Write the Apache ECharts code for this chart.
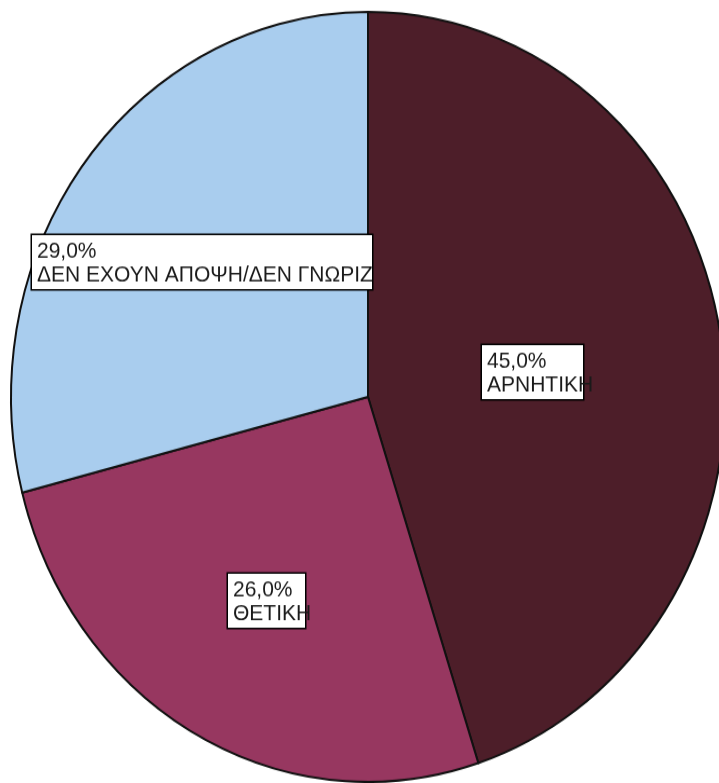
<!DOCTYPE html>
<html>
<head>
<meta charset="utf-8">
<script src="https://cdn.jsdelivr.net/npm/echarts@6/dist/echarts.min.js"></script>
<style>
html,body{margin:0;padding:0;background:#fff;overflow:hidden;width:719px;height:783px;}
#chart{position:absolute;left:0;top:0;width:719px;height:726px;transform:scaleY(1.0785);transform-origin:0 0;}
</style>
</head>
<body>
<div id="chart"></div>
<script>
const categories = ['ΑΡΝΗΤΙΚΗ', 'ΘΕΤΙΚΗ', 'ΔΕΝ ΕΧΟΥΝ ΑΠΟΨΗ/ΔΕΝ ΓΝΩΡΙΖ'];
const values = [45.0, 26.0, 29.0];
const colors = ['#4d1e29', '#973760', '#a9cdee'];

const labelBoxWidths = [92, 68, 331];
const labelBoxPos = [[482, 320], [228, 532], [32, 218]];

const chart = echarts.init(document.getElementById('chart'), null, {renderer: 'canvas'});
const data = categories.map((n, i) => ({
  name: n,
  value: values[i],
  itemStyle: {color: colors[i]},
  label: {width: labelBoxWidths[i]}
}));

chart.setOption({
  animation: false,
  backgroundColor: '#fff',
  series: [{
    type: 'pie',
    center: [368, 368],
    radius: 357,
    startAngle: 90,
    clockwise: true,
    avoidLabelOverlap: false,
    itemStyle: {borderColor: '#111', borderWidth: 2},
    emphasis: {disabled: true},
    label: {
      show: true,
      position: 'inside',
      formatter: p => p.value.toFixed(1).replace('.', ',') + '%\n' + p.name,
      fontFamily: 'Liberation Sans, Arial, sans-serif',
      fontSize: 21,
      lineHeight: 22,
      color: '#1a1a1a',
      align: 'left',
      backgroundColor: '#fff',
      borderColor: '#000',
      borderWidth: 1.5,
      padding: [4, 4, 2, 5],
      overflow: 'none'
    },
    labelLine: {show: false},
    labelLayout: function (params) {
      const p = labelBoxPos[params.dataIndex];
      return {x: p[0], y: p[1], align: 'left', verticalAlign: 'top'};
    },
    data: data
  }]
});
</script>
</body>
</html>
